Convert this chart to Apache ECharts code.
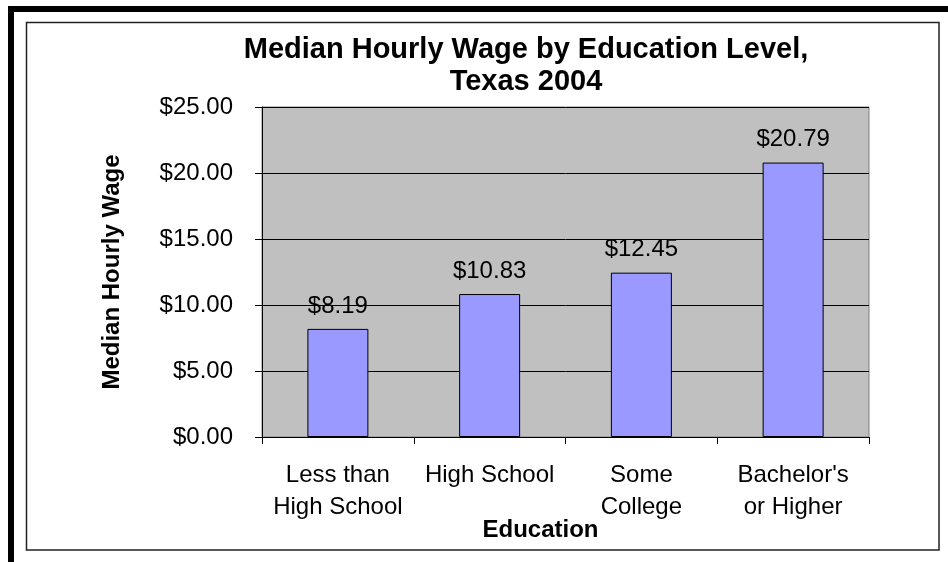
<!DOCTYPE html>
<html>
<head>
<meta charset="utf-8">
<script src="https://cdn.jsdelivr.net/npm/echarts@6/dist/echarts.min.js"></script>
<style>
  html, body { margin: 0; padding: 0; background: #fff; }
  #chart { width: 948px; height: 562px; }
</style>
</head>
<body>
<div id="chart"></div>
<script>
const categories = ['Less than\nHigh School', 'High School', 'Some\nCollege', "Bachelor's\nor Higher"];
const wages = [8.19, 10.83, 12.45, 20.79];
const yTicks = { min: 0, max: 25, interval: 5 };

const FONT = '"Liberation Sans", Arial, sans-serif';
const chart = echarts.init(document.getElementById('chart'), null, { renderer: 'canvas' });

chart.setOption({
  backgroundColor: '#ffffff',
  animation: false,
  title: {
    text: 'Median Hourly Wage by Education Level,\nTexas 2004',
    left: 526,
    top: 34,
    textAlign: 'center',
    padding: 0,
    textStyle: { fontFamily: FONT, fontSize: 29, fontWeight: 'bold', color: '#000', lineHeight: 32 }
  },
  grid: {
    left: 262, top: 107, right: 79, bottom: 125,
    show: true, backgroundColor: '#C0C0C0', borderColor: '#808080', borderWidth: 1
  },
  xAxis: {
    type: 'category',
    data: categories,
    name: 'Education',
    nameLocation: 'middle',
    nameGap: 81,
    nameMoveOverlap: false,
    nameTextStyle: { fontFamily: FONT, fontSize: 24, fontWeight: 'bold', color: '#000', padding: [0, 50, 0, 0] },
    axisLine: { show: true, lineStyle: { color: '#000', width: 1 } },
    axisTick: { show: true, length: 7, alignWithLabel: false, lineStyle: { color: '#000' } },
    axisLabel: { fontFamily: FONT, fontSize: 24, color: '#000', lineHeight: 32, margin: 22, interval: 0 },
    splitLine: { show: false }
  },
  yAxis: {
    type: 'value',
    min: yTicks.min, max: yTicks.max, interval: yTicks.interval,
    name: 'Median Hourly Wage',
    nameLocation: 'middle',
    nameRotate: 90,
    nameGap: 138,
    nameMoveOverlap: false,
    nameTextStyle: { fontFamily: FONT, fontSize: 24, fontWeight: 'bold', color: '#000' },
    axisLine: { show: true, lineStyle: { color: '#000', width: 1 } },
    axisTick: { show: true, length: 7, lineStyle: { color: '#000' } },
    axisLabel: {
      fontFamily: FONT, fontSize: 24, color: '#000', margin: 29,
      formatter: v => '$' + v.toFixed(2)
    },
    splitLine: { show: true, lineStyle: { color: '#000', width: 1 } }
  },
  series: [{
    type: 'bar',
    data: wages,
    barWidth: 61,
    itemStyle: { color: '#9999FF', borderColor: '#000', borderWidth: 1 },
    label: {
      show: true, position: 'top', distance: 11,
      fontFamily: FONT, fontSize: 24, color: '#000',
      formatter: p => '$' + p.value.toFixed(2)
    }
  }],
  graphic: [
    { type: 'rect', shape: { x: 8, y: 6, width: 940, height: 6 }, style: { fill: '#000' }, silent: true },
    { type: 'rect', shape: { x: 8, y: 6, width: 6, height: 556 }, style: { fill: '#000' }, silent: true },
    { type: 'rect', shape: { x: 26.5, y: 22.5, width: 912.5, height: 527.5 }, style: { fill: null, stroke: '#222', lineWidth: 1.5 }, silent: true }
  ]
});
</script>
</body>
</html>
